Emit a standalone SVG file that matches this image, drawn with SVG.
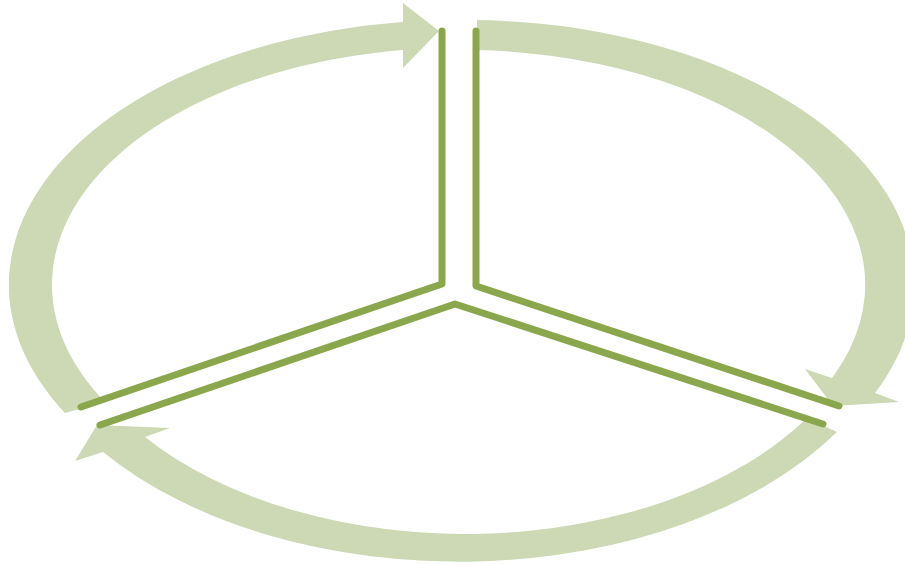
<svg xmlns="http://www.w3.org/2000/svg" width="905" height="565" viewBox="0 0 905 565">
<style>
.arrow{fill:#ccd9b4;stroke:none}
.spoke{fill:none;stroke:#8ba74d;stroke-width:7;stroke-linecap:round;stroke-linejoin:round}
</style>
<rect width="905" height="565" fill="#ffffff"/>
<g id="arrows">
<path id="arrow-left" class="arrow" d="M 65 413 A 450.5 265 0 0 1 403 22 L 403 3 L 439 31 L 403 68 L 403 50 A 405.5 237 0 0 0 105 402 Z"/>
<path id="arrow-right" class="arrow" d="M 477 20 A 450 265 0 0 1 875 393 L 899 402 L 833 406 L 805 369 L 832 378 A 405 235 0 0 0 477 50 Z"/>
<path id="arrow-bottom" class="arrow" d="M 837 432 A 450 283 0 0 1 103 452 L 75 461 L 97 425 L 170 428 L 145 437 A 405 250 0 0 0 807 418 Z"/>
</g>
<g id="connectors">
<polyline class="spoke" points="442,31 442,284 81,407"/>
<polyline class="spoke" points="476,31 476,286 839,406"/>
<polyline class="spoke" points="100,425 455,304 823,424"/>
</g>
</svg>
